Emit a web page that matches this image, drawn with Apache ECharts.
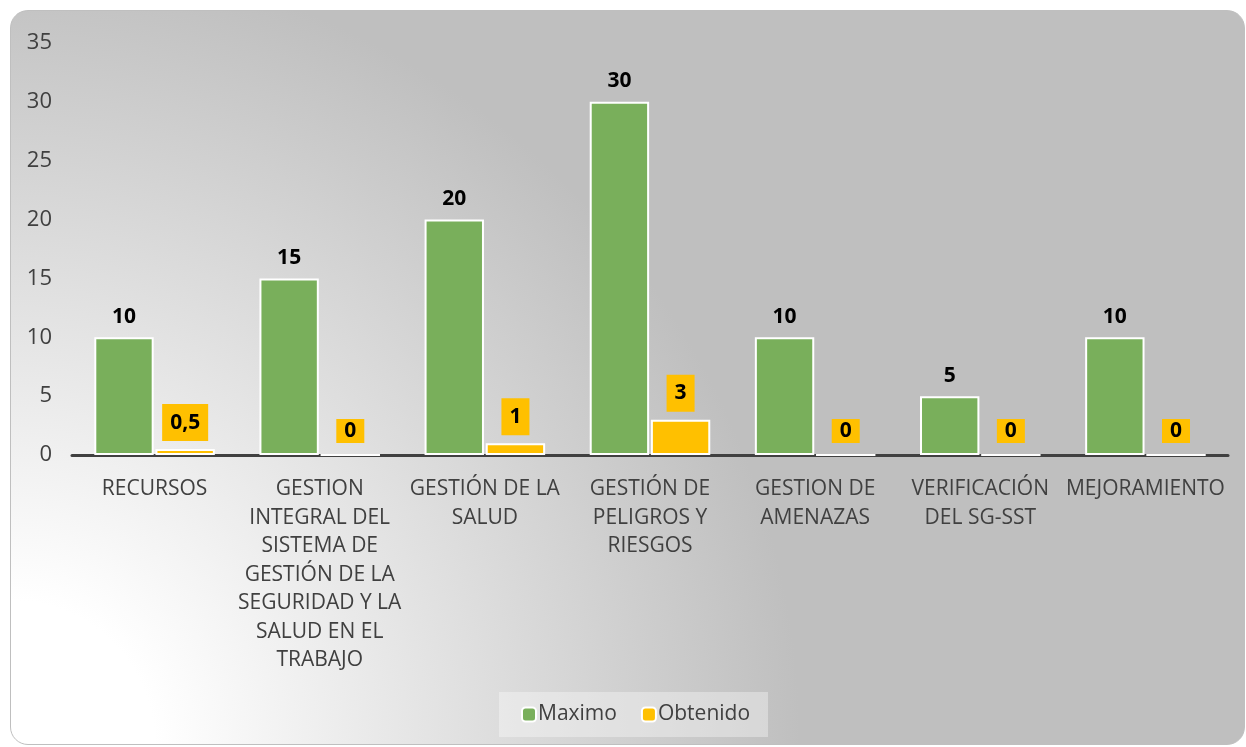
<!DOCTYPE html>
<html>
<head>
<meta charset="utf-8">
<script src="https://cdn.jsdelivr.net/npm/echarts@6/dist/echarts.min.js"></script>
<style>
  html, body { margin: 0; padding: 0; background: #fff; }
  .bg {
    position: absolute; left: 10px; top: 10px; width: 1235px; height: 735px;
    border: 1px solid #bfbfbf; border-radius: 18px; box-sizing: border-box;
    background: radial-gradient(circle at 0% 100%, #ffffff 0%, #ffffff 10%, #bfbfbf 55%);
  }
  #main { position: absolute; left: 0; top: 0; width: 1246px; height: 747px; }
</style>
</head>
<body>
<div class="bg"></div>
<div id="main"></div>
<script>
// categorias y valores
var categorias = [
  'RECURSOS',
  'GESTION\nINTEGRAL DEL\nSISTEMA DE\nGESTIÓN DE LA\nSEGURIDAD Y LA\nSALUD EN EL\nTRABAJO',
  'GESTIÓN DE LA\nSALUD',
  'GESTIÓN DE\nPELIGROS Y\nRIESGOS',
  'GESTION DE\nAMENAZAS',
  'VERIFICACIÓN\nDEL SG-SST',
  'MEJORAMIENTO'
];
var maximo = [10, 15, 20, 30, 10, 5, 10];
var obtenido = [0.5, 0, 1, 3, 0, 0, 0];
var yTicks = [0, 35, 5]; // min, max, intervalo

var font = '"Open Sans", "DejaVu Sans", sans-serif';

var myChart = echarts.init(document.getElementById('main'));
myChart.setOption({
  backgroundColor: 'transparent',
  textStyle: { fontFamily: font },
  grid: { left: 72, right: 18, top: 43, bottom: 292 },
  legend: {
    bottom: 10,
    left: 499,
    padding: [12, 18, 12, 22],
    backgroundColor: 'rgba(255,255,255,0.35)',
    itemWidth: 14,
    itemHeight: 14,
    itemGap: 24,
    textStyle: { fontSize: 21, color: '#404040', fontFamily: font, padding: [0, 0, 0, -3] },
    data: ['Maximo', 'Obtenido']
  },
  xAxis: [{
    type: 'category',
    data: categorias,
    axisLine: { show: true, lineStyle: { color: '#404040', width: 3 } },
    axisTick: { show: false },
    axisLabel: {
      interval: 0,
      margin: 20,
      fontSize: 21,
      lineHeight: 28.5,
      color: '#404040',
      fontFamily: font
    }
  }],
  yAxis: [{
    type: 'value',
    min: yTicks[0],
    max: yTicks[1],
    interval: yTicks[2],
    splitLine: { show: false },
    axisLine: { show: false },
    axisTick: { show: false },
    axisLabel: { fontSize: 22, color: '#404040', margin: 20, fontFamily: font }
  }],
  series: [{
    name: 'Maximo',
    type: 'bar',
    barCategoryGap: '27%',
    barGap: '3%',
    itemStyle: { color: '#79af5b', borderColor: '#ffffff', borderWidth: 2 },
    label: {
      show: true,
      position: 'top',
      distance: 10,
      fontSize: 21,
      fontWeight: 'bold',
      color: '#000',
      fontFamily: font
    },
    data: maximo
  }, {
    name: 'Obtenido',
    type: 'bar',
    itemStyle: { color: '#ffc000', borderColor: '#ffffff', borderWidth: 2 },
    label: {
      show: true,
      position: 'top',
      fontSize: 21,
      fontWeight: 'bold',
      color: '#000',
      fontFamily: font,
      backgroundColor: '#ffc000',
      formatter: function (p) { return String(p.value).replace('.', ','); }
    },
    data: obtenido.map(function (v) {
      // las etiquetas de cero tienen una caja mas baja
      return {
        value: v,
        label: v === 0 ? { padding: [2, 8, 1, 8], distance: 11 } : { padding: [8, 8, 8, 8], distance: 8 }
      };
    })
  }]
});
</script>
</body>
</html>
